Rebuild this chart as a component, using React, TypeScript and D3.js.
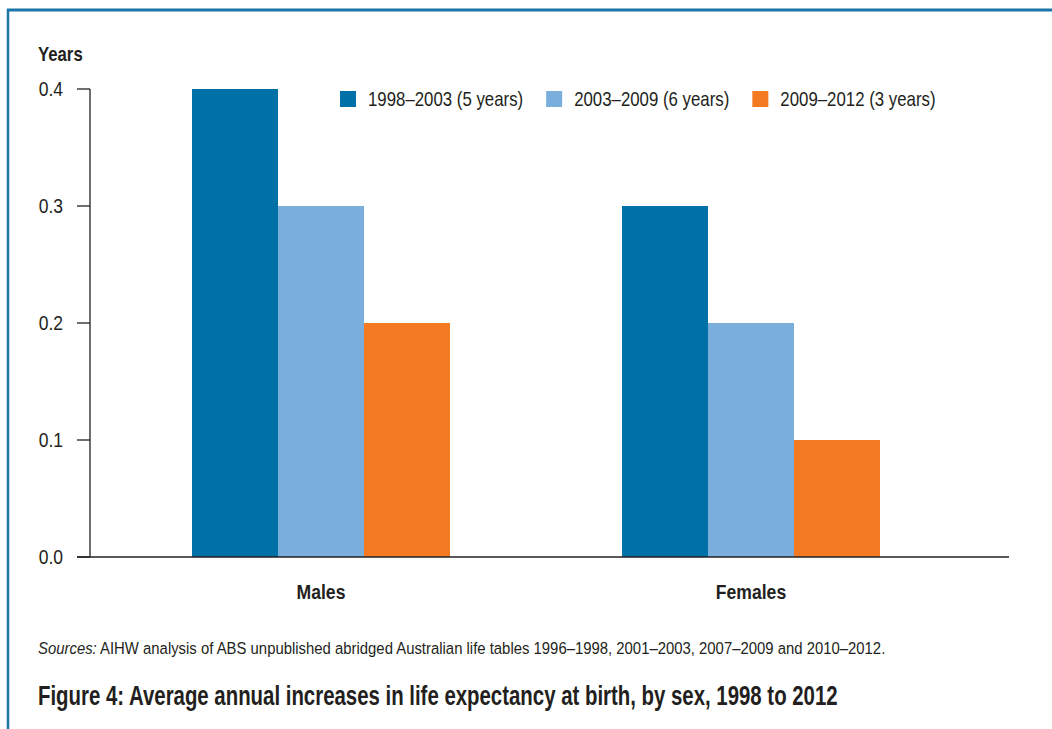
import React, { useEffect, useRef } from 'react';
import * as d3 from 'd3';

const categories = ['Males', 'Females'];
const periods = ['1998–2003 (5 years)', '2003–2009 (6 years)', '2009–2012 (3 years)'];
const males = [0.4, 0.3, 0.2];
const females = [0.3, 0.2, 0.1];
const yTicks = [0, 0.1, 0.2, 0.3, 0.4];
const colors = ['#0071a7', '#7aafdd', '#f47a22'];

const TITLE = 'Figure 4: Average annual increases in life expectancy at birth, by sex, 1998 to 2012';
const SOURCE = ' AIHW analysis of ABS unpublished abridged Australian life tables 1996–1998, 2001–2003, 2007–2009 and 2010–2012.';

const FONT = "'Liberation Sans', Arial, sans-serif";
const INK = '#231f20';

type TextSel = d3.Selection<SVGTextElement, any, any, any>;

// place a text at (x, y) and squeeze it horizontally so it reads like a condensed face
const place = (sel: TextSel, x: (d: any) => number, yv: (d: any) => number, k: number) => {
  sel.attr('x', 0).attr('y', 0)
    .attr('transform', d => `translate(${x(d)},${yv(d)}) scale(${k},1)`);
};

const App: React.FC = () => {
  const ref = useRef<SVGSVGElement>(null);

  useEffect(() => {
    const svg = d3.select(ref.current);
    svg.selectAll('*').remove();

    const width = 1052;
    const height = 729;
    const values = [males, females];

    // frame: blue rule along the top and left
    svg.append('line')
      .attr('x1', 7).attr('x2', width).attr('y1', 10).attr('y2', 10)
      .attr('stroke', '#1b75a9').attr('stroke-width', 3);
    svg.append('line')
      .attr('x1', 8).attr('x2', 8).attr('y1', 9).attr('y2', height)
      .attr('stroke', '#1b75a9').attr('stroke-width', 2.5);

    const y = d3.scaleLinear().domain([0, 0.4]).range([557, 89]);
    const x0 = d3.scaleBand<string>()
      .domain(categories)
      .range([106, 966])
      .paddingInner(0.4)
      .paddingOuter(0.2);
    const x1 = d3.scaleBand<string>()
      .domain(periods)
      .range([0, x0.bandwidth()]);

    // title and sources first, to work out the squeeze factors
    const title = svg.append('text')
      .attr('font-family', FONT)
      .attr('font-size', 28)
      .attr('font-weight', 'bold')
      .attr('fill', INK)
      .text(TITLE);
    const kBold = 800 / (title.node() as SVGTextElement).getComputedTextLength();
    place(title, () => 38, () => 705, kBold);

    const src = svg.append('text')
      .attr('font-family', FONT)
      .attr('font-size', 17)
      .attr('fill', INK);
    src.append('tspan').attr('font-style', 'italic').text('Sources:');
    src.append('tspan').text(SOURCE);
    const kReg = 848 / (src.node() as SVGTextElement).getComputedTextLength();
    place(src, () => 38, () => 654, kReg);

    // bars
    const groups = svg.append('g').selectAll('g')
      .data(categories)
      .enter()
      .append('g')
      .attr('transform', d => `translate(${x0(d)},0)`);

    groups.selectAll('rect')
      .data((d, i) => periods.map((p, j) => ({ period: p, value: values[i][j], idx: j })))
      .enter()
      .append('rect')
      .attr('x', d => x1(d.period)!)
      .attr('y', d => y(d.value))
      .attr('width', x1.bandwidth())
      .attr('height', d => y(0) - y(d.value))
      .attr('fill', d => colors[d.idx]);

    // axes
    const axis = svg.append('g').attr('stroke', INK).attr('stroke-width', 1.3);
    axis.append('line')
      .attr('x1', 90).attr('x2', 90).attr('y1', y(0.4)).attr('y2', y(0));
    axis.selectAll('line.tick')
      .data(yTicks)
      .enter()
      .append('line')
      .attr('class', 'tick')
      .attr('x1', 77).attr('x2', 90)
      .attr('y1', d => y(d)).attr('y2', d => y(d));
    axis.append('line')
      .attr('x1', 77).attr('x2', 1009).attr('y1', y(0)).attr('y2', y(0));

    const ticks = svg.append('g').selectAll('text')
      .data(yTicks)
      .enter()
      .append('text')
      .attr('dy', '0.36em')
      .attr('text-anchor', 'end')
      .attr('font-family', FONT)
      .attr('font-size', 20)
      .attr('fill', INK)
      .text(d => d.toFixed(1));
    place(ticks as TextSel, () => 63, d => y(d), kReg);

    const kLabel = kBold * 1.15;
    const yt = svg.append('text')
      .attr('font-family', FONT)
      .attr('font-size', 20)
      .attr('font-weight', 'bold')
      .attr('fill', INK)
      .text('Years');
    place(yt, () => 38, () => 61, kLabel);

    // category labels
    const cats = svg.append('g').selectAll('text')
      .data(categories)
      .enter()
      .append('text')
      .attr('text-anchor', 'middle')
      .attr('font-family', FONT)
      .attr('font-size', 21)
      .attr('font-weight', 'bold')
      .attr('fill', INK)
      .text(d => d);
    place(cats as TextSel, d => x0(d)! + x0.bandwidth() / 2, () => 599, kLabel);

    // legend
    const kLeg = kReg * 0.96;
    let lx = 340;
    periods.forEach((p, i) => {
      svg.append('rect')
        .attr('x', lx).attr('y', 91)
        .attr('width', 16).attr('height', 16)
        .attr('fill', colors[i]);
      const t = svg.append('text')
        .attr('dy', '0.36em')
        .attr('font-family', FONT)
        .attr('font-size', 20)
        .attr('fill', INK)
        .text(p);
      const tx = lx + 28;
      place(t, () => tx, () => 99, kLeg);
      const w = (t.node() as SVGTextElement).getComputedTextLength() * kLeg;
      lx = tx + w + 23;
    });
  }, []);

  return (
    <div style={{ position: 'absolute', left: 0, top: 0 }}>
      <svg ref={ref} width={1052} height={729} style={{ display: 'block', background: '#fff' }} />
    </div>
  );
};

export default App;
